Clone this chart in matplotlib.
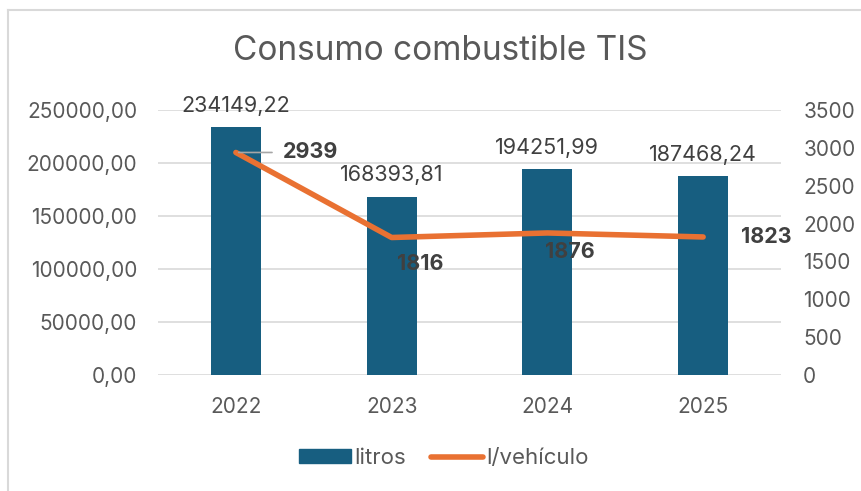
import matplotlib.pyplot as plt
from matplotlib.lines import Line2D
import numpy as np

# datos
anios = ['2022', '2023', '2024', '2025']
litros = [234149.22, 168393.81, 194251.99, 187468.24]
l_vehiculo = [2939, 1816, 1876, 1823]
etiquetas_litros = ['234149,22', '168393,81', '194251,99', '187468,24']

plt.rcParams['font.family'] = ['Inter', 'DejaVu Sans']

azul = '#175e80'
naranja = '#e97132'
gris = '#595959'

fig = plt.figure(figsize=(8.61, 4.91), dpi=100)
ax = fig.add_axes([158/861, 1-375/491, (781-158)/861, (375-110)/491])
ax2 = ax.twinx()

x = np.arange(len(anios))
ax.bar(x, litros, width=0.32, color=azul, zorder=2)
ax.set_xlim(-0.5, 3.5)
ax.set_ylim(0, 250000)
ax.set_yticks(np.arange(0, 250001, 50000))
ax.set_yticklabels(['{:.2f}'.format(v).replace('.', ',') for v in np.arange(0, 250001, 50000)])
ax.grid(axis='y', color='#d9d9d9', linewidth=1.2, zorder=0)
ax.set_axisbelow(True)
ax.set_xticks(x)
ax.set_xticklabels(anios)

for a in (ax, ax2):
    for s in a.spines.values():
        s.set_visible(False)
    a.tick_params(length=0, labelsize=15, colors=gris)
ax.tick_params(axis='y', pad=15)
ax.tick_params(axis='x', pad=16)
ax2.tick_params(axis='y', pad=16)

ax2.plot(x, l_vehiculo, color=naranja, linewidth=4, solid_capstyle='round', zorder=3)
ax2.set_ylim(0, 3500)
ax2.set_yticks(np.arange(0, 3501, 500))

# etiquetas barras
for i, v in enumerate(litros):
    ax.annotate(etiquetas_litros[i], (x[i], v), xytext=(0, 8), textcoords='offset points',
                ha='center', va='bottom', fontsize=15.5, color='#404040')

# etiquetas linea
offs = [(34, 0), (4, -19), (-2, -14), (27, 0)]
for i, v in enumerate(l_vehiculo):
    ax2.annotate(str(v), (x[i], v), xytext=offs[i], textcoords='offset points',
                 ha='left', va='center', fontsize=15.5,
                 fontweight='bold', color='#404040')
ax2.annotate('', (x[0], l_vehiculo[0]), xytext=(x[0] + 0.25, l_vehiculo[0]),
             arrowprops=dict(arrowstyle='-', color='#a6a6a6', lw=1.2))

fig.suptitle('Consumo combustible TIS', x=440/861, y=1-51/491, va='center',
             fontsize=24, color=gris)

handles = [plt.Rectangle((0, 0), 1, 1, color=azul),
           Line2D([0], [0], color=naranja, linewidth=4, solid_capstyle='round')]
fig.legend(handles, ['litros', 'l/vehículo'], loc='center', bbox_to_anchor=(444/861, 1-458/491),
           ncol=2, frameon=False, fontsize=16, labelcolor=gris, handlelength=2.35,
           handleheight=0.55, columnspacing=1.1, handletextpad=0.15)

# marco del grafico
fig.add_artist(Line2D([8/861, 8/861], [0, 1-10/491], color='#d9d9d9', linewidth=1.5))
fig.add_artist(Line2D([8/861, 1], [1-10/491, 1-10/491], color='#d9d9d9', linewidth=1.5))

fig.savefig('out.png', dpi=100)
